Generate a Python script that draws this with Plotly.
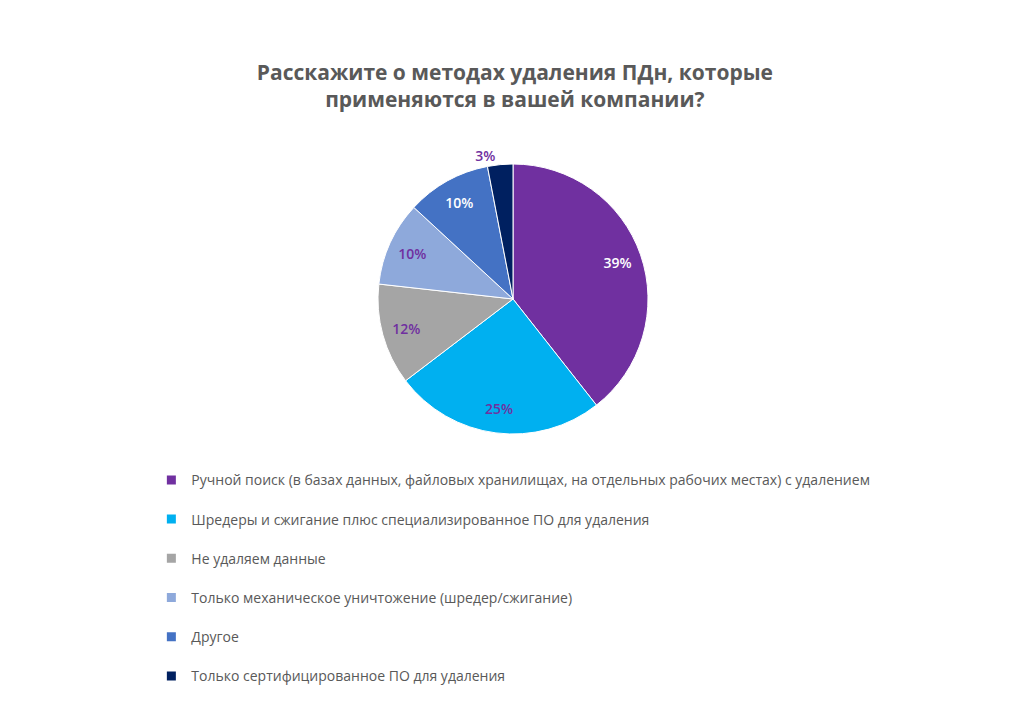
import plotly.graph_objects as go

labels = [
    "Ручной поиск (в базах данных, файловых хранилищах, на отдельных рабочих местах) с удалением",
    "Шредеры и сжигание плюс специализированное ПО для удаления",
    "Не удаляем данные",
    "Только механическое уничтожение (шредер/сжигание)",
    "Другое",
    "Только сертифицированное ПО для удаления",
]
values = [39, 25, 12, 10, 10, 3]
text_labels = ["39%", "25%", "12%", "10%", "10%", "3%"]
colors = ["#7030A0", "#00B0F0", "#A5A5A5", "#8EA9DB", "#4472C4", "#002060"]
label_colors = ["#FFFFFF", "#7030A0", "#7030A0", "#7030A0", "#FFFFFF", "#7030A0"]
positions = ["inside", "inside", "inside", "inside", "inside", "outside"]

FONT = "Open Sans"
TEXT = "#595959"
W, H = 1024, 713
# pie box in figure pixels
PIE_TOP_PX, PIE_BOTTOM_PX, PIE_CX_PX = 156, 426, 505
PIE_DOMAIN = dict(x=[0, 2 * PIE_CX_PX / W], y=[(H - PIE_BOTTOM_PX) / H, (H - PIE_TOP_PX) / H])

fig = go.Figure()
# Filled pie
fig.add_trace(go.Pie(
    labels=labels,
    values=values,
    textinfo="none",
    marker=dict(colors=colors, line=dict(color="#FFFFFF", width=1)),
    sort=False,
    direction="clockwise",
    rotation=0,
    showlegend=False,
    hoverinfo="label+percent",
    domain=PIE_DOMAIN,
))
# Transparent ring carrying the percentage labels (places them near the rim)
fig.add_trace(go.Pie(
    labels=labels,
    values=values,
    text=text_labels,
    textinfo="text",
    textposition=positions,
    insidetextorientation="horizontal",
    textfont=dict(family=FONT, size=14, color=label_colors, weight=600),
    hole=0.64,
    marker=dict(colors=["rgba(0,0,0,0)"] * len(values), line=dict(width=0)),
    sort=False,
    direction="clockwise",
    rotation=0,
    showlegend=False,
    hoverinfo="skip",
    domain=PIE_DOMAIN,
))

for i, (lab, col) in enumerate(zip(labels, colors)):
    fig.add_trace(go.Scatter(
        x=[None], y=[None], mode="markers", name=lab,
        legendgroup=f"g{i}",
        marker=dict(symbol="square", size=9, color=col),
        showlegend=True,
        hoverinfo="skip",
    ))

fig.update_layout(
    width=W, height=H,
    margin=dict(l=0, r=0, t=0, b=0, autoexpand=False),
    paper_bgcolor="white", plot_bgcolor="white",
    font=dict(family=FONT, color=TEXT),
    title=dict(
        text="<b>Расскажите о методах удаления ПДн, которые<br>применяются в вашей компании?</b>",
        x=0.495, xanchor="center", y=0.899, yanchor="middle",
        xref="container", yref="container",
        font=dict(family=FONT, size=21, color=TEXT),
    ),
    xaxis=dict(visible=False), yaxis=dict(visible=False),
    legend=dict(
        xref="paper", yref="paper",
        x=0.14, y=0.360, xanchor="left", yanchor="top",
        font=dict(family=FONT, size=14, color=TEXT),
        tracegroupgap=18, itemwidth=30,
        bgcolor="rgba(0,0,0,0)",
    ),
)

fig.write_html("out.html")
